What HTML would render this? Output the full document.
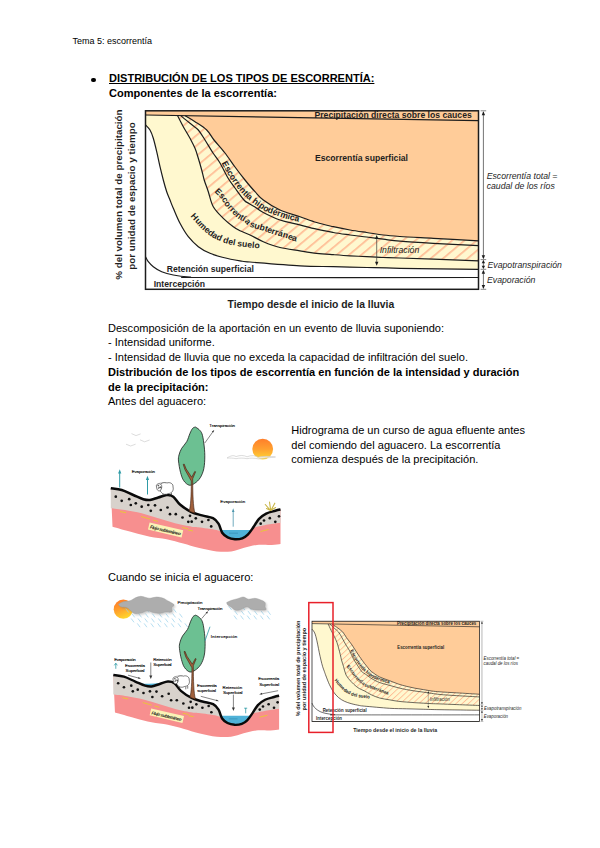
<!DOCTYPE html><html lang="es"><head><meta charset="utf-8"><title>Tema 5: escorrentía</title><style>
html,body{margin:0;padding:0;background:#fff}
body{width:600px;height:848px;position:relative;overflow:hidden;font-family:"Liberation Sans",Arial,sans-serif;color:#000}
.t{position:absolute;white-space:nowrap;font-size:11.04px;line-height:14.6px;left:108.0px}
.b{font-weight:bold}
svg{position:absolute;left:0;top:0}
</style></head><body>
<div class="t" style="left:72.5px;top:34.88px;font-size:9px;line-height:12px">Tema 5: escorrentía</div>
<div style="position:absolute;left:91.2px;top:77.6px;width:4.6px;height:4.6px;border-radius:50%;background:#000"></div>
<div class="t b" style="top:71.22px;left:109.0px;text-decoration:underline;">DISTRIBUCIÓN DE LOS TIPOS DE ESCORRENTÍA:</div>
<div class="t b" style="top:86.22px;left:109.0px;">Componentes de la escorrentía:</div>
<div class="t " style="top:320.52px;">Descomposición de la aportación en un evento de lluvia suponiendo:</div>
<div class="t " style="top:335.27px;">- Intensidad uniforme.</div>
<div class="t " style="top:350.02px;">- Intensidad de lluvia que no exceda la capacidad de infiltración del suelo.</div>
<div class="t b" style="top:364.77px;">Distribución de los tipos de escorrentía en función de la intensidad y duración</div>
<div class="t b" style="top:379.52px;">de la precipitación:</div>
<div class="t " style="top:394.27px;">Antes del aguacero:</div>
<div class="t " style="top:422.92px;left:291.3px;">Hidrograma de un curso de agua efluente antes</div>
<div class="t " style="top:437.52px;left:291.3px;">del comiendo del aguacero. La escorrentía</div>
<div class="t " style="top:452.12px;left:291.3px;">comienza después de la precipitación.</div>
<div class="t " style="top:570.17px;">Cuando se inicia el aguacero:</div>
<!--SCENE2-->
<svg width="600" height="848" viewBox="0 0 600 848">
<g id="chartbig"><defs><pattern id="ah" width="7.9" height="7.9" patternUnits="userSpaceOnUse" patternTransform="rotate(-40)"><rect x="0" y="0" width="7.9" height="1.7" fill="#FFBD95"/></pattern></defs>
<rect x="145.5" y="110.8" width="333.0" height="178.5" fill="#FFCC99"/>
<path d="M145.5 115.0L185.0 115.7C186.7 116.7 191.4 119.3 195.0 121.7C198.6 124.1 203.5 127.0 206.7 130.0C209.9 133.1 210.9 136.2 214.0 140.0C217.1 143.8 221.5 148.5 225.0 153.0C228.5 157.5 231.7 162.5 235.0 167.0C238.3 171.5 241.7 175.9 245.0 180.0C248.3 184.1 251.9 188.4 255.0 191.7C258.1 195.0 259.1 196.9 263.3 200.0C267.5 203.1 273.9 207.2 280.0 210.0C286.1 212.8 293.9 214.6 300.0 216.7C306.1 218.8 311.1 220.8 316.7 222.5C322.2 224.2 327.8 225.4 333.3 226.7C338.9 227.9 344.4 229.0 350.0 230.0C355.6 231.0 361.1 231.7 366.7 232.5C372.2 233.3 377.8 234.3 383.3 235.0C388.9 235.7 391.7 235.9 400.0 236.5C408.3 237.1 420.2 237.6 433.3 238.3C446.4 239.0 471.0 240.4 478.5 240.8L478.5 269.3C465.4 269.1 418.6 268.6 400.0 268.3C381.4 268.0 377.8 267.8 366.7 267.5C355.6 267.2 344.4 267.0 333.3 266.7C322.2 266.4 313.9 266.6 300.0 265.8C286.1 265.0 260.0 262.8 250.0 262.0C240.0 261.2 244.4 261.6 240.0 260.8C235.6 260.1 228.3 258.8 223.3 257.5C218.3 256.2 214.2 255.1 210.0 253.3C205.8 251.5 201.9 249.5 198.3 246.7C194.7 243.9 191.4 240.6 188.3 236.7C185.2 232.8 182.5 228.0 180.0 223.3C177.5 218.6 175.0 212.2 173.3 208.3C171.6 204.4 171.1 202.8 170.0 200.0C168.9 197.2 167.8 195.0 166.7 191.7C165.6 188.4 164.4 184.2 163.3 180.0C162.2 175.8 161.1 171.4 160.0 166.7C158.9 162.0 157.8 156.4 156.7 151.7C155.6 147.0 154.4 141.9 153.3 138.3C152.2 134.7 151.3 132.2 150.0 130.0C148.7 127.8 146.2 125.8 145.5 125.0Z" fill="#FFF8CF"/>
<path d="M185.0 115.7C186.7 116.7 191.4 119.3 195.0 121.7C198.6 124.1 203.5 127.0 206.7 130.0C209.9 133.1 210.9 136.2 214.0 140.0C217.1 143.8 221.5 148.5 225.0 153.0C228.5 157.5 231.7 162.5 235.0 167.0C238.3 171.5 241.7 175.9 245.0 180.0C248.3 184.1 251.9 188.4 255.0 191.7C258.1 195.0 259.1 196.9 263.3 200.0C267.5 203.1 273.9 207.2 280.0 210.0C286.1 212.8 293.9 214.6 300.0 216.7C306.1 218.8 311.1 220.8 316.7 222.5C322.2 224.2 327.8 225.4 333.3 226.7C338.9 227.9 344.4 229.0 350.0 230.0C355.6 231.0 361.1 231.7 366.7 232.5C372.2 233.3 377.8 234.3 383.3 235.0C388.9 235.7 391.7 235.9 400.0 236.5C408.3 237.1 420.2 237.6 433.3 238.3C446.4 239.0 471.0 240.4 478.5 240.8L478.5 260.8C471.0 260.5 446.4 259.7 433.3 259.2C420.2 258.7 408.3 258.3 400.0 258.0C391.7 257.7 388.9 257.7 383.3 257.5C377.8 257.3 372.2 257.0 366.7 256.7C361.1 256.4 355.6 256.1 350.0 255.8C344.4 255.5 338.9 255.1 333.3 254.7C327.8 254.3 322.2 254.0 316.7 253.3C311.1 252.7 306.1 251.8 300.0 250.8C293.9 249.8 286.1 249.0 280.0 247.5C273.9 246.0 268.3 243.8 263.3 241.7C258.3 239.6 253.9 236.8 250.0 235.0C246.1 233.2 242.8 232.2 240.0 230.8C237.2 229.4 236.1 228.8 233.3 226.7C230.5 224.6 226.6 221.6 223.3 218.3C220.0 215.0 215.8 211.1 213.3 206.7C210.8 202.3 209.8 196.1 208.3 191.7C206.8 187.2 205.3 183.6 204.2 180.0C203.1 176.4 202.7 173.6 201.7 170.0C200.7 166.4 199.4 161.9 198.3 158.3C197.2 154.7 196.4 151.6 195.0 148.3C193.6 145.0 191.9 141.9 190.0 138.3C188.1 134.7 185.4 130.5 183.3 126.7C181.2 122.9 178.5 117.4 177.5 115.5Z" fill="url(#ah)"/>
<path d="M145.5 125.0C146.2 125.8 148.7 127.8 150.0 130.0C151.3 132.2 152.2 134.7 153.3 138.3C154.4 141.9 155.6 147.0 156.7 151.7C157.8 156.4 158.9 162.0 160.0 166.7C161.1 171.4 162.2 175.8 163.3 180.0C164.4 184.2 165.6 188.4 166.7 191.7C167.8 195.0 168.9 197.2 170.0 200.0C171.1 202.8 171.6 204.4 173.3 208.3C175.0 212.2 177.5 218.6 180.0 223.3C182.5 228.0 185.2 232.8 188.3 236.7C191.4 240.6 194.7 243.9 198.3 246.7C201.9 249.5 205.8 251.5 210.0 253.3C214.2 255.1 218.3 256.2 223.3 257.5C228.3 258.8 235.6 260.1 240.0 260.8C244.4 261.6 240.0 261.2 250.0 262.0C260.0 262.8 286.1 265.0 300.0 265.8C313.9 266.6 322.2 266.4 333.3 266.7C344.4 267.0 355.6 267.2 366.7 267.5C377.8 267.8 381.4 268.0 400.0 268.3C418.6 268.6 465.4 269.1 478.5 269.3L478.5 289.3L145.5 289.3Z" fill="#fff"/>
<g fill="none" stroke="#1c1c1c" stroke-width="1.2">
<path d="M145.5 115.0L478.5 120.7"/>
<path d="M145.5 125.0C146.2 125.8 148.7 127.8 150.0 130.0C151.3 132.2 152.2 134.7 153.3 138.3C154.4 141.9 155.6 147.0 156.7 151.7C157.8 156.4 158.9 162.0 160.0 166.7C161.1 171.4 162.2 175.8 163.3 180.0C164.4 184.2 165.6 188.4 166.7 191.7C167.8 195.0 168.9 197.2 170.0 200.0C171.1 202.8 171.6 204.4 173.3 208.3C175.0 212.2 177.5 218.6 180.0 223.3C182.5 228.0 185.2 232.8 188.3 236.7C191.4 240.6 194.7 243.9 198.3 246.7C201.9 249.5 205.8 251.5 210.0 253.3C214.2 255.1 218.3 256.2 223.3 257.5C228.3 258.8 235.6 260.1 240.0 260.8C244.4 261.6 240.0 261.2 250.0 262.0C260.0 262.8 286.1 265.0 300.0 265.8C313.9 266.6 322.2 266.4 333.3 266.7C344.4 267.0 355.6 267.2 366.7 267.5C377.8 267.8 381.4 268.0 400.0 268.3C418.6 268.6 465.4 269.1 478.5 269.3"/>
<path d="M177.5 115.5C178.5 117.4 181.2 122.9 183.3 126.7C185.4 130.5 188.1 134.7 190.0 138.3C191.9 141.9 193.6 145.0 195.0 148.3C196.4 151.6 197.2 154.7 198.3 158.3C199.4 161.9 200.7 166.4 201.7 170.0C202.7 173.6 203.1 176.4 204.2 180.0C205.3 183.6 206.8 187.2 208.3 191.7C209.8 196.1 210.8 202.3 213.3 206.7C215.8 211.1 220.0 215.0 223.3 218.3C226.6 221.6 230.5 224.6 233.3 226.7C236.1 228.8 237.2 229.4 240.0 230.8C242.8 232.2 246.1 233.2 250.0 235.0C253.9 236.8 258.3 239.6 263.3 241.7C268.3 243.8 273.9 246.0 280.0 247.5C286.1 249.0 293.9 249.8 300.0 250.8C306.1 251.8 311.1 252.7 316.7 253.3C322.2 254.0 327.8 254.3 333.3 254.7C338.9 255.1 344.4 255.5 350.0 255.8C355.6 256.1 361.1 256.4 366.7 256.7C372.2 257.0 377.8 257.3 383.3 257.5C388.9 257.7 391.7 257.7 400.0 258.0C408.3 258.3 420.2 258.7 433.3 259.2C446.4 259.7 471.0 260.5 478.5 260.8"/>
<path d="M180.8 115.6C182.3 116.9 187.1 120.9 190.0 123.3C192.9 125.7 195.8 127.2 198.3 130.0C200.8 132.8 202.6 136.2 205.0 140.0C207.4 143.8 210.5 149.2 213.0 153.0C215.5 156.8 217.5 158.8 220.0 163.0C222.5 167.2 225.5 173.8 228.0 178.0C230.5 182.2 232.3 184.3 235.0 188.0C237.7 191.7 241.7 197.4 244.0 200.0C246.3 202.6 247.2 202.3 249.0 203.5C250.8 204.7 252.6 205.5 255.0 207.0C257.4 208.5 259.1 210.3 263.3 212.5C267.5 214.7 274.4 218.1 280.0 220.0C285.6 221.9 290.6 222.7 296.7 224.2C302.8 225.7 310.6 227.8 316.7 229.2C322.8 230.6 327.8 231.5 333.3 232.5C338.9 233.5 344.4 234.2 350.0 235.0C355.6 235.8 361.1 236.3 366.7 237.0C372.2 237.7 377.8 238.5 383.3 239.2C388.9 239.9 391.7 240.5 400.0 241.2C408.3 241.9 420.2 242.6 433.3 243.3C446.4 244.0 471.0 245.2 478.5 245.6"/>
<path d="M185.0 115.7C186.7 116.7 191.4 119.3 195.0 121.7C198.6 124.1 203.5 127.0 206.7 130.0C209.9 133.1 210.9 136.2 214.0 140.0C217.1 143.8 221.5 148.5 225.0 153.0C228.5 157.5 231.7 162.5 235.0 167.0C238.3 171.5 241.7 175.9 245.0 180.0C248.3 184.1 251.9 188.4 255.0 191.7C258.1 195.0 259.1 196.9 263.3 200.0C267.5 203.1 273.9 207.2 280.0 210.0C286.1 212.8 293.9 214.6 300.0 216.7C306.1 218.8 311.1 220.8 316.7 222.5C322.2 224.2 327.8 225.4 333.3 226.7C338.9 227.9 344.4 229.0 350.0 230.0C355.6 231.0 361.1 231.7 366.7 232.5C372.2 233.3 377.8 234.3 383.3 235.0C388.9 235.7 391.7 235.9 400.0 236.5C408.3 237.1 420.2 237.6 433.3 238.3C446.4 239.0 471.0 240.4 478.5 240.8"/>
<path d="M145.5 256.7C146.0 257.5 147.0 260.0 148.3 261.7C149.6 263.4 151.1 265.0 153.3 266.7C155.5 268.4 158.4 270.3 161.7 271.7C165.0 273.1 168.6 274.1 173.3 275.0C178.0 275.9 184.4 276.6 190.0 277.0C195.6 277.4 158.6 277.4 206.7 277.5C254.8 277.6 433.2 277.5 478.5 277.5"/>
<rect x="145.5" y="110.8" width="333.0" height="178.5" stroke-width="1.5"/>
</g>
<defs><path id="ap1" d="M221.5 163.0C222.3 164.5 225.2 169.8 226.5 172.0C227.8 174.2 228.1 175.0 229.0 176.5C229.9 178.0 231.0 179.6 232.0 181.0C233.0 182.4 234.1 183.8 235.0 185.0C235.9 186.2 236.7 187.0 237.5 188.0C238.3 189.0 239.1 189.9 240.0 191.0C240.9 192.1 242.0 193.4 243.0 194.5C244.0 195.6 245.1 196.7 246.0 197.5C246.9 198.3 246.8 198.3 248.3 199.5C249.8 200.7 252.5 202.8 255.0 204.5C257.5 206.2 261.1 208.7 263.3 210.0C265.5 211.3 266.4 211.7 268.3 212.5C270.2 213.3 273.1 214.3 275.0 215.0C276.9 215.7 278.3 216.1 280.0 216.7C281.7 217.2 283.6 217.9 285.0 218.3C286.4 218.7 286.1 218.6 288.3 219.2C290.5 219.8 294.7 220.9 298.3 221.7C301.9 222.5 308.1 223.6 310.0 224.0"/><path id="ap2" d="M214.2 191.7C215.0 192.5 217.8 195.2 219.2 196.7C220.6 198.2 221.5 199.4 222.5 200.8C223.5 202.2 223.9 203.5 225.0 205.0C226.1 206.5 227.8 208.5 229.2 210.0C230.6 211.5 232.1 212.9 233.3 214.2C234.6 215.4 235.4 216.5 236.7 217.5C237.9 218.5 239.4 219.2 240.8 220.0C242.2 220.8 243.8 221.5 245.0 222.5C246.2 223.5 246.6 224.8 248.3 225.8C250.0 226.8 251.9 227.3 255.0 228.3C258.1 229.3 264.2 230.9 266.7 231.7C269.2 232.5 266.7 232.2 270.0 233.3C273.3 234.4 282.8 237.1 286.7 238.3C290.6 239.6 290.2 239.9 293.3 240.8C296.4 241.7 303.1 243.1 305.0 243.5"/><path id="ap3" d="M190.5 216.5C191.5 217.7 194.8 221.4 196.7 223.5C198.6 225.6 200.1 227.2 202.0 229.0C203.9 230.8 206.4 233.0 208.3 234.5C210.2 236.0 211.6 236.8 213.3 237.8C215.0 238.8 216.6 239.5 218.3 240.3C220.0 241.1 221.0 241.7 223.3 242.5C225.6 243.3 229.2 244.4 232.0 245.0C234.8 245.6 237.0 245.9 240.0 246.3C243.0 246.7 246.7 247.1 250.0 247.5C253.3 247.9 256.7 248.2 260.0 248.5C263.3 248.8 268.3 249.2 270.0 249.3"/></defs>
<g font-family="Liberation Sans, Arial, sans-serif" font-weight="bold" font-size="8.65" fill="#1e1e1e">
<text><textPath href="#ap1">Escorrentía hipodérmica</textPath></text>
<text><textPath href="#ap2">Escorrentía subterránea</textPath></text>
<text><textPath href="#ap3">Humedad del suelo</textPath></text>
<text x="314.5" y="118">Precipitación directa sobre los cauces</text>
<text x="315" y="161">Escorrentía superficial</text>
<text x="166.7" y="271.7">Retención superficial</text>
<text x="153.7" y="286.7">Intercepción</text>
<text x="227.5" y="307.5" font-size="10.36">Tiempo desde el inicio de la lluvia</text>
<text transform="translate(122.3 279.8) rotate(-90)" font-size="9.83">% del volumen total de precipitación</text>
<text transform="translate(134.5 269.7) rotate(-90)" font-size="9.83">por unidad de espacio y tiempo</text>
</g>
<g font-family="Liberation Sans, Arial, sans-serif" font-style="italic" font-size="8.7" fill="#1e1e1e">
<text x="486.7" y="179">Escorrentía total =</text>
<text x="486.7" y="189">caudal de los ríos</text>
<text x="487.5" y="268">Evapotranspiración</text>
<text x="487" y="282.5">Evaporación</text>
<text x="379.7" y="252.5">Infiltración</text>
</g>
<g stroke="#3a3a3a" stroke-width="0.7" fill="none">
<path d="M483.4 112V258M483.4 260.5V268M483.4 271V288"/>
<path d="M480.6 110.8H486.2" stroke="#555"/>
<path d="M480.6 259.6H486.2" stroke="#555"/>
<path d="M480.6 269.3H486.2" stroke="#555"/>
<path d="M480.6 289.3H486.2" stroke="#555"/>
<path d="M376.7 237V264"/>
</g>
<g fill="#1c1c1c">
<path d="M483.4 111.3L481.7 115.3L485.1 115.3Z"/>
<path d="M483.4 259.2L481.7 255.2L485.1 255.2Z"/>
<path d="M483.4 260.0L481.7 263.2L485.1 263.2Z"/>
<path d="M483.4 268.9L481.7 265.7L485.1 265.7Z"/>
<path d="M483.4 269.8L481.7 273.8L485.1 273.8Z"/>
<path d="M483.4 288.9L481.7 284.9L485.1 284.9Z"/>
<path d="M376.7 235.0L375.0 239.0L378.4 239.0Z"/>
<path d="M376.7 265.8L375.0 261.8L378.4 261.8Z"/>
</g></g>
<g id="scene1"><defs><linearGradient id="sun" x1="0" y1="0" x2="0" y2="1"><stop offset="0" stop-color="#FF7E2A"/><stop offset="0.5" stop-color="#FFA030"/><stop offset="1" stop-color="#FFD733"/></linearGradient></defs>
<circle cx="262.7" cy="449.1" r="10.4" fill="url(#sun)"/>
<path d="M227 458C231 455.5 233.5 455 236 456.6C240 455 244 455.2 247 456.8C251 455 256 455.4 258 457.3C263 456 270 456.2 275.5 457C270 457.9 263 457.8 258.5 458.9C254 457.9 250 458 247 458.7C243 457.8 239 458 236 458.7C233 457.9 230 458.1 227 458Z" fill="#fff" fill-opacity="0.75" stroke="#c4c4c4" stroke-width="0.6"/>
<g stroke="#c4c4c4" stroke-width="0.6" fill="none"><path d="M131.5 433.6l4.5 2 4.6-1.7M140 439.8l4.6 2 5-1.8M126 444.2l4.6 1.8 5-1.8"/></g>
<path d="M110.8 488.3C112.6 488.6 118.0 488.9 121.7 490.0C125.5 491.1 129.7 493.5 133.3 495.0C136.9 496.5 140.5 498.4 143.3 499.2C146.1 500.0 147.5 500.3 150.0 500.0C152.5 499.7 155.5 498.3 158.3 497.5C161.1 496.7 164.2 495.1 166.7 495.0C169.2 494.9 171.1 495.1 173.3 496.7C175.5 498.3 177.1 502.0 180.0 504.5C182.9 507.0 187.3 510.0 191.0 511.8C194.7 513.6 198.3 514.3 202.0 515.4C205.7 516.5 210.2 516.8 213.0 518.2C215.8 519.6 217.0 521.3 218.5 523.7C220.0 526.1 220.7 530.5 222.2 532.8C223.7 535.1 225.6 536.3 227.7 537.4C229.8 538.5 232.6 539.1 235.0 539.3C237.4 539.4 240.2 539.1 242.3 538.3C244.4 537.5 246.0 536.5 247.8 534.7C249.6 532.9 251.5 529.9 253.3 527.3C255.1 524.7 256.7 521.4 258.8 519.1C260.9 516.8 263.4 515.0 266.2 513.6C268.9 512.2 272.9 511.5 275.3 510.8C277.7 510.1 279.6 509.7 280.5 509.5L280.5 544.0C279.0 544.2 275.6 544.8 271.7 545.0C267.8 545.2 261.6 544.5 257.0 545.0C252.4 545.5 248.5 546.7 244.2 547.8C239.9 548.9 235.9 550.8 231.3 551.4C226.7 552.0 222.2 552.0 216.7 551.4C211.2 550.8 203.9 549.1 198.3 547.8C192.7 546.5 188.6 544.9 183.3 543.5C178.0 542.1 172.2 540.3 166.7 539.2C161.1 538.1 155.6 537.8 150.0 536.7C144.4 535.6 139.6 534.2 133.3 532.5C127.1 530.8 116.0 527.7 112.5 526.7Z" fill="#F78F8F"/>
<clipPath id="g1w"><rect x="215" y="530.1" width="45" height="15"/></clipPath>
<path d="M213.0 518.2C213.9 519.1 217.0 521.3 218.5 523.7C220.0 526.1 220.7 530.5 222.2 532.8C223.7 535.1 225.6 536.3 227.7 537.4C229.8 538.5 232.6 539.1 235.0 539.3C237.4 539.4 240.2 539.1 242.3 538.3C244.4 537.5 246.0 536.5 247.8 534.7C249.6 532.9 251.5 529.9 253.3 527.3C255.1 524.7 257.9 520.5 258.8 519.1Z" fill="#4FB2D8" clip-path="url(#g1w)"/>
<path d="M229 533.2H238" stroke="#2a7fa3" stroke-width="0.5"/>
<path d="M110.8 488.3C112.6 488.6 118.0 488.9 121.7 490.0C125.5 491.1 129.7 493.5 133.3 495.0C136.9 496.5 140.5 498.4 143.3 499.2C146.1 500.0 147.5 500.3 150.0 500.0C152.5 499.7 155.5 498.3 158.3 497.5C161.1 496.7 164.2 495.1 166.7 495.0C169.2 494.9 171.1 495.1 173.3 496.7C175.5 498.3 177.1 502.0 180.0 504.5C182.9 507.0 187.3 510.0 191.0 511.8C194.7 513.6 198.3 514.3 202.0 515.4C205.7 516.5 210.2 516.8 213.0 518.2C215.8 519.6 217.0 521.3 218.5 523.7C220.0 526.1 221.6 531.3 222.2 532.8L223.0 533.5C221.9 532.9 220.8 531.1 216.7 530.1C212.6 529.1 202.5 527.9 198.3 527.3C194.1 526.7 195.6 527.4 191.7 526.7C187.8 526.0 180.6 524.7 175.0 523.3C169.4 521.9 163.9 520.0 158.3 518.3C152.8 516.6 147.2 514.7 141.7 513.3C136.1 511.9 130.2 510.8 125.0 510.0C119.8 509.2 113.2 508.6 110.8 508.3Z" fill="#D8D2CC"/>
<path d="M253.3 527.3C254.2 525.9 256.7 521.4 258.8 519.1C260.9 516.8 263.4 515.0 266.2 513.6C268.9 512.2 272.9 511.5 275.3 510.8C277.7 510.1 279.6 509.7 280.5 509.5L280.5 522.8C278.4 523.1 272.2 523.9 268.0 524.6C263.8 525.4 257.8 526.6 255.2 527.3C252.6 527.9 252.9 528.3 252.5 528.5Z" fill="#D8D2CC"/>
<g stroke="#E8C832" stroke-width="0.9" fill="none"><path d="M120 511.5l6 1.3M141 516.5l9 2.6M153 520l5 1.4M182 527.5l6 1.2M188 530l5 1M260.5 531.5l8-2"/></g>
<g transform="translate(149.6 522.6) rotate(13)"><rect x="0" y="0" width="34.5" height="7.2" fill="#FBF3B5"/><text x="1.4" y="5.6" font-family="Liberation Sans, Arial, sans-serif" font-weight="bold" font-style="italic" font-size="4.6" fill="#222" textLength="31.5">Flujo subterráneo</text></g>
<path d="M110.8 488.3C112.6 488.6 118.0 488.9 121.7 490.0C125.5 491.1 129.7 493.5 133.3 495.0C136.9 496.5 140.5 498.4 143.3 499.2C146.1 500.0 147.5 500.3 150.0 500.0C152.5 499.7 155.5 498.3 158.3 497.5C161.1 496.7 164.2 495.1 166.7 495.0C169.2 494.9 171.1 495.1 173.3 496.7C175.5 498.3 177.1 502.0 180.0 504.5C182.9 507.0 187.3 510.0 191.0 511.8C194.7 513.6 198.3 514.3 202.0 515.4C205.7 516.5 210.2 516.8 213.0 518.2C215.8 519.6 217.0 521.3 218.5 523.7C220.0 526.1 220.7 530.5 222.2 532.8C223.7 535.1 225.6 536.3 227.7 537.4C229.8 538.5 232.6 539.1 235.0 539.3C237.4 539.4 240.2 539.1 242.3 538.3C244.4 537.5 246.0 536.5 247.8 534.7C249.6 532.9 251.5 529.9 253.3 527.3C255.1 524.7 256.7 521.4 258.8 519.1C260.9 516.8 263.4 515.0 266.2 513.6C268.9 512.2 272.9 511.5 275.3 510.8C277.7 510.1 279.6 509.7 280.5 509.5" fill="none" stroke="#0a0a0a" stroke-width="2.5" stroke-linejoin="round"/>
<g fill="#111"><circle cx="115.8" cy="496.7" r="1.35"/><circle cx="121.7" cy="500.8" r="1.35"/><circle cx="129.2" cy="499.2" r="1.35"/><circle cx="130.8" cy="505.0" r="1.35"/><circle cx="135.8" cy="503.3" r="1.35"/><circle cx="141.7" cy="506.7" r="1.35"/><circle cx="148.3" cy="505.0" r="1.35"/><circle cx="155.0" cy="505.3" r="1.35"/><circle cx="150.8" cy="510.8" r="1.35"/><circle cx="160.8" cy="510.0" r="1.35"/><circle cx="167.5" cy="507.5" r="1.35"/><circle cx="170.0" cy="514.2" r="1.35"/><circle cx="175.8" cy="514.2" r="1.35"/><circle cx="182.5" cy="517.5" r="1.35"/><circle cx="190.0" cy="515.8" r="1.35"/><circle cx="191.7" cy="521.7" r="1.35"/><circle cx="195.8" cy="518.3" r="1.35"/><circle cx="188.3" cy="521.8" r="1.35"/><circle cx="202.0" cy="521.8" r="1.35"/><circle cx="208.4" cy="520.0" r="1.35"/><circle cx="211.2" cy="526.4" r="1.35"/><circle cx="260.7" cy="523.7" r="1.35"/><circle cx="269.8" cy="518.2" r="1.35"/><circle cx="275.3" cy="521.8" r="1.35"/><circle cx="279.0" cy="516.3" r="1.35"/><circle cx="264.0" cy="520.5" r="1.35"/></g>
<path d="M195.3 427.0C195.9 427.4 197.9 428.4 199.0 429.5C200.1 430.6 201.2 431.6 202.0 433.8C202.8 436.1 203.3 439.3 203.8 443.0C204.3 446.7 204.8 451.5 204.8 455.8C204.8 460.1 204.6 465.0 203.8 468.7C203.0 472.4 201.7 475.4 200.2 477.8C198.7 480.2 196.5 482.1 194.7 483.3C192.9 484.5 191.0 485.6 189.2 485.2C187.4 484.8 185.1 482.8 183.7 480.6C182.2 478.5 181.4 475.6 180.5 472.3C179.6 469.0 178.8 463.9 178.5 461.0C178.2 458.1 178.5 457.1 179.0 455.0C179.5 452.9 180.4 450.5 181.7 448.3C183.0 446.1 185.3 444.2 186.7 441.7C188.1 439.2 189.0 435.5 190.0 433.3C191.0 431.1 191.6 429.6 192.5 428.5C193.4 427.4 194.8 427.2 195.3 427.0Z" fill="#6CC092" stroke="#1a1a1a" stroke-width="0.8"/>
<path d="M189.2 511.2C190.7 506 191.2 497 191.3 481L185 469.8L183.2 464.4L184.2 464.1L186.2 469L191.7 477.2L194.8 471.4L195.6 471.8L192.7 478.8C192.8 495 193.1 506 194.9 513.2Z" fill="#A0603C" stroke="#3a1f10" stroke-width="0.6" stroke-linejoin="round"/>
<g transform="translate(0.0 0.0)" stroke="#222" stroke-width="0.6" fill="#fff"><path d="M163 494.3v2.2M169.5 494v2.5M171.5 493v2.8" fill="none"/><path d="M160 485.5C161 482.3 165 482 167 483C170 481.8 173.5 483.8 173 487C174 490 172 493.5 168.5 493.5C166 495 162.5 494.5 161.5 492.5C159.5 491 159 488 160 485.5Z"/><path d="M156.3 485.8C156.5 483.8 159 483.2 160.8 484.2C162.2 485.2 162 488.5 160.6 490.3C159.4 491.5 157.6 490.8 157 489.2Z"/><path d="M157.6 485.6l1.6 0.3M158 488.2l1.8-.6M160.4 486.5l.6 1.8" stroke="#111" stroke-width="0.9" fill="none"/><path d="M158.2 483.8C160 482.6 164 482.4 166 483" fill="none" stroke="#888" stroke-width="0.5"/></g>
<g stroke="#C9B545" stroke-width="1.1" fill="none" stroke-linecap="round"><path d="M270.5 510.5L265.3 504.5M270.7 510.3L269.5 502M271 510.3L274.8 503.2M270.6 510.4L266.5 508.6M271 510.2L275.6 507.5"/></g>
<path d="M119.7 472.9V487.5" stroke="#2F9BA6" stroke-width="1.0" fill="none"/><path d="M119.7 469.2L118.1 473.4L121.3 473.4Z" fill="#2F9BA6"/>
<path d="M147.5 479.5V494.5" stroke="#2F9BA6" stroke-width="1.0" fill="none"/><path d="M147.5 475.8L145.9 480.0L149.1 480.0Z" fill="#2F9BA6"/>
<path d="M233.2 511.4V526.7" stroke="#4d96ad" stroke-width="0.8" fill="none"/><path d="M233.2 508.3L231.9 511.9L234.5 511.9Z" fill="#4d96ad"/>
<g font-family="Liberation Sans, Arial, sans-serif" font-size="4.4" fill="#000" stroke="#000" stroke-width="0.12"><text x="131.7" y="472.6" textLength="23.3">Evaporación</text><text x="220.3" y="503" textLength="24.8">Evaporación</text><text x="209.3" y="427.2" textLength="25.7">Transpiración</text></g>
<path d="M204.8 443L213.6 430.8" stroke="#333" stroke-width="0.6"/><path d="M214.2 429.9l-2.4 1.6 1.5 1.1z" fill="#333"/></g>
<g id="scene2"><defs><linearGradient id="sun2" x1="0.2" y1="0" x2="0.6" y2="1"><stop offset="0" stop-color="#FF7A28"/><stop offset="0.5" stop-color="#FFA22C"/><stop offset="1" stop-color="#FFD92B"/></linearGradient><filter id="bl" x="-20%" y="-20%" width="140%" height="160%"><feGaussianBlur stdDeviation="0.9"/></filter></defs>
<circle cx="123.3" cy="609.2" r="9.6" fill="url(#sun2)"/>
<path d="M126.0 609.0l2.4 3.2M132.8 609.0l2.4 3.2M139.6 609.0l2.4 3.2M146.4 609.0l2.4 3.2M153.2 609.0l2.4 3.2M160.0 609.0l2.4 3.2M166.8 609.0l2.4 3.2M173.6 609.0l2.4 3.2M132.1 613.9l2.4 3.2M138.9 613.9l2.4 3.2M145.7 613.9l2.4 3.2M152.5 613.9l2.4 3.2M159.3 613.9l2.4 3.2M166.1 613.9l2.4 3.2M172.9 613.9l2.4 3.2M179.7 613.9l2.4 3.2M131.4 618.8l2.4 3.2M138.2 618.8l2.4 3.2M145.0 618.8l2.4 3.2M151.8 618.8l2.4 3.2M158.6 618.8l2.4 3.2M165.4 618.8l2.4 3.2M172.2 618.8l2.4 3.2M179.0 618.8l2.4 3.2M137.5 623.7l2.4 3.2M144.3 623.7l2.4 3.2M151.1 623.7l2.4 3.2M157.9 623.7l2.4 3.2M164.7 623.7l2.4 3.2M171.5 623.7l2.4 3.2M178.3 623.7l2.4 3.2M185.1 623.7l2.4 3.2" stroke="#9DD3EC" stroke-width="0.75" fill="none" stroke-linecap="round"/>
<path d="M229.0 606.5l2.4 3.2M235.6 606.5l2.4 3.2M242.2 606.5l2.4 3.2M248.8 606.5l2.4 3.2M255.4 606.5l2.4 3.2M262.0 606.5l2.4 3.2M234.9 611.2l2.4 3.2M241.5 611.2l2.4 3.2M248.1 611.2l2.4 3.2M254.7 611.2l2.4 3.2M261.3 611.2l2.4 3.2M267.9 611.2l2.4 3.2M234.2 615.9l2.4 3.2M240.8 615.9l2.4 3.2M247.4 615.9l2.4 3.2M254.0 615.9l2.4 3.2M260.6 615.9l2.4 3.2M267.2 615.9l2.4 3.2" stroke="#9DD3EC" stroke-width="0.75" fill="none" stroke-linecap="round"/>
<path d="M118.3 604.2C119.1 603.8 121.3 602.3 123.3 601.7C125.2 601.1 128.1 601.4 130.0 600.8C131.9 600.2 133.2 598.8 135.0 598.0C136.8 597.2 139.0 596.4 140.8 596.3C142.6 596.2 144.3 597.2 145.8 597.5C147.3 597.8 148.2 598.4 150.0 598.3C151.8 598.2 154.5 597.0 156.7 597.0C158.9 597.0 161.5 597.7 163.3 598.3C165.1 598.9 166.2 600.1 167.5 600.8C168.8 601.5 169.7 601.8 170.8 602.5C171.9 603.2 174.0 604.2 174.2 605.0C174.3 605.8 172.1 606.4 171.7 607.5C171.3 608.6 172.8 611.0 171.7 611.7C170.6 612.5 166.9 611.7 165.0 612.0C163.1 612.3 161.9 613.2 160.0 613.3C158.1 613.4 155.4 612.9 153.3 612.5C151.2 612.1 149.6 610.7 147.5 610.8C145.4 610.9 143.0 612.6 140.8 613.0C138.6 613.4 136.0 613.8 134.2 613.3C132.4 612.8 131.2 611.0 130.0 610.0C128.8 609.0 128.2 608.0 126.7 607.5C125.2 607.0 122.2 607.2 120.8 606.7C119.4 606.2 118.7 604.6 118.3 604.2Z" fill="#7d7d7d" opacity="0.4" transform="translate(1.4 1.6)" filter="url(#bl)"/>
<path d="M118.3 604.2C119.1 603.8 121.3 602.3 123.3 601.7C125.2 601.1 128.1 601.4 130.0 600.8C131.9 600.2 133.2 598.8 135.0 598.0C136.8 597.2 139.0 596.4 140.8 596.3C142.6 596.2 144.3 597.2 145.8 597.5C147.3 597.8 148.2 598.4 150.0 598.3C151.8 598.2 154.5 597.0 156.7 597.0C158.9 597.0 161.5 597.7 163.3 598.3C165.1 598.9 166.2 600.1 167.5 600.8C168.8 601.5 169.7 601.8 170.8 602.5C171.9 603.2 174.0 604.2 174.2 605.0C174.3 605.8 172.1 606.4 171.7 607.5C171.3 608.6 172.8 611.0 171.7 611.7C170.6 612.5 166.9 611.7 165.0 612.0C163.1 612.3 161.9 613.2 160.0 613.3C158.1 613.4 155.4 612.9 153.3 612.5C151.2 612.1 149.6 610.7 147.5 610.8C145.4 610.9 143.0 612.6 140.8 613.0C138.6 613.4 136.0 613.8 134.2 613.3C132.4 612.8 131.2 611.0 130.0 610.0C128.8 609.0 128.2 608.0 126.7 607.5C125.2 607.0 122.2 607.2 120.8 606.7C119.4 606.2 118.7 604.6 118.3 604.2Z" fill="#ADADAD" stroke="#9a9a9a" stroke-width="0.4"/>
<path d="M226.7 602.5C227.5 602.1 229.9 600.9 231.7 600.3C233.5 599.7 235.6 599.2 237.5 598.7C239.4 598.2 241.5 596.9 243.3 597.0C245.1 597.1 246.4 599.0 248.3 599.2C250.2 599.4 252.9 598.2 255.0 598.3C257.1 598.4 259.1 599.3 260.8 600.0C262.5 600.7 264.3 601.4 265.0 602.5C265.7 603.6 264.9 605.5 265.0 606.7C265.1 607.9 266.9 609.2 265.8 609.7C264.7 610.2 260.7 610.1 258.3 610.0C256.0 609.9 253.6 609.8 251.7 609.2C249.8 608.7 248.6 606.6 246.7 606.7C244.8 606.8 241.9 609.2 240.0 609.7C238.1 610.2 236.5 610.5 235.0 610.0C233.5 609.5 232.1 607.6 230.8 606.7C229.6 605.8 228.2 605.4 227.5 604.7C226.8 604.0 226.8 602.9 226.7 602.5Z" fill="#7d7d7d" opacity="0.4" transform="translate(1.4 1.6)" filter="url(#bl)"/>
<path d="M226.7 602.5C227.5 602.1 229.9 600.9 231.7 600.3C233.5 599.7 235.6 599.2 237.5 598.7C239.4 598.2 241.5 596.9 243.3 597.0C245.1 597.1 246.4 599.0 248.3 599.2C250.2 599.4 252.9 598.2 255.0 598.3C257.1 598.4 259.1 599.3 260.8 600.0C262.5 600.7 264.3 601.4 265.0 602.5C265.7 603.6 264.9 605.5 265.0 606.7C265.1 607.9 266.9 609.2 265.8 609.7C264.7 610.2 260.7 610.1 258.3 610.0C256.0 609.9 253.6 609.8 251.7 609.2C249.8 608.7 248.6 606.6 246.7 606.7C244.8 606.8 241.9 609.2 240.0 609.7C238.1 610.2 236.5 610.5 235.0 610.0C233.5 609.5 232.1 607.6 230.8 606.7C229.6 605.8 228.2 605.4 227.5 604.7C226.8 604.0 226.8 602.9 226.7 602.5Z" fill="#ADADAD" stroke="#9a9a9a" stroke-width="0.4"/>
<g transform="translate(113.3 675) scale(0.9770 0.9770) translate(-110.8 -488.3)">
<path d="M110.8 488.3C112.6 488.6 118.0 488.9 121.7 490.0C125.5 491.1 129.7 493.5 133.3 495.0C136.9 496.5 140.5 498.4 143.3 499.2C146.1 500.0 147.5 500.3 150.0 500.0C152.5 499.7 155.5 498.3 158.3 497.5C161.1 496.7 164.2 495.1 166.7 495.0C169.2 494.9 171.1 495.1 173.3 496.7C175.5 498.3 177.1 502.0 180.0 504.5C182.9 507.0 187.3 510.0 191.0 511.8C194.7 513.6 198.3 514.3 202.0 515.4C205.7 516.5 210.2 516.8 213.0 518.2C215.8 519.6 217.0 521.3 218.5 523.7C220.0 526.1 220.7 530.5 222.2 532.8C223.7 535.1 225.6 536.3 227.7 537.4C229.8 538.5 232.6 539.1 235.0 539.3C237.4 539.4 240.2 539.1 242.3 538.3C244.4 537.5 246.0 536.5 247.8 534.7C249.6 532.9 251.5 529.9 253.3 527.3C255.1 524.7 256.7 521.4 258.8 519.1C260.9 516.8 263.4 515.0 266.2 513.6C268.9 512.2 272.9 511.5 275.3 510.8C277.7 510.1 279.6 509.7 280.5 509.5L280.5 544.0C279.0 544.2 275.6 544.8 271.7 545.0C267.8 545.2 261.6 544.5 257.0 545.0C252.4 545.5 248.5 546.7 244.2 547.8C239.9 548.9 235.9 550.8 231.3 551.4C226.7 552.0 222.2 552.0 216.7 551.4C211.2 550.8 203.9 549.1 198.3 547.8C192.7 546.5 188.6 544.9 183.3 543.5C178.0 542.1 172.2 540.3 166.7 539.2C161.1 538.1 155.6 537.8 150.0 536.7C144.4 535.6 139.6 534.2 133.3 532.5C127.1 530.8 116.0 527.7 112.5 526.7Z" fill="#F78F8F"/>
<clipPath id="g2w"><rect x="215" y="530.1" width="45" height="15"/></clipPath>
<path d="M213.0 518.2C213.9 519.1 217.0 521.3 218.5 523.7C220.0 526.1 220.7 530.5 222.2 532.8C223.7 535.1 225.6 536.3 227.7 537.4C229.8 538.5 232.6 539.1 235.0 539.3C237.4 539.4 240.2 539.1 242.3 538.3C244.4 537.5 246.0 536.5 247.8 534.7C249.6 532.9 251.5 529.9 253.3 527.3C255.1 524.7 257.9 520.5 258.8 519.1Z" fill="#4FB2D8" clip-path="url(#g2w)"/>
<path d="M229 533.2H238" stroke="#2a7fa3" stroke-width="0.5"/>
<path d="M110.8 488.3C112.6 488.6 118.0 488.9 121.7 490.0C125.5 491.1 129.7 493.5 133.3 495.0C136.9 496.5 140.5 498.4 143.3 499.2C146.1 500.0 147.5 500.3 150.0 500.0C152.5 499.7 155.5 498.3 158.3 497.5C161.1 496.7 164.2 495.1 166.7 495.0C169.2 494.9 171.1 495.1 173.3 496.7C175.5 498.3 177.1 502.0 180.0 504.5C182.9 507.0 187.3 510.0 191.0 511.8C194.7 513.6 198.3 514.3 202.0 515.4C205.7 516.5 210.2 516.8 213.0 518.2C215.8 519.6 217.0 521.3 218.5 523.7C220.0 526.1 221.6 531.3 222.2 532.8L223.0 533.5C221.9 532.9 220.8 531.1 216.7 530.1C212.6 529.1 202.5 527.9 198.3 527.3C194.1 526.7 195.6 527.4 191.7 526.7C187.8 526.0 180.6 524.7 175.0 523.3C169.4 521.9 163.9 520.0 158.3 518.3C152.8 516.6 147.2 514.7 141.7 513.3C136.1 511.9 130.2 510.8 125.0 510.0C119.8 509.2 113.2 508.6 110.8 508.3Z" fill="#D8D2CC"/>
<path d="M253.3 527.3C254.2 525.9 256.7 521.4 258.8 519.1C260.9 516.8 263.4 515.0 266.2 513.6C268.9 512.2 272.9 511.5 275.3 510.8C277.7 510.1 279.6 509.7 280.5 509.5L280.5 522.8C278.4 523.1 272.2 523.9 268.0 524.6C263.8 525.4 257.8 526.6 255.2 527.3C252.6 527.9 252.9 528.3 252.5 528.5Z" fill="#D8D2CC"/>
<path d="M139 496.9C145 497.4 152 497.4 158.5 496.6L154 499.6L150 500.6L144 499.8Z" fill="#4FB2D8"/>
<g stroke="#E8C832" stroke-width="0.9" fill="none"><path d="M120 511.5l6 1.3M141 516.5l9 2.6M153 520l5 1.4M182 527.5l6 1.2M188 530l5 1M260.5 531.5l8-2"/></g>
<g transform="translate(149.6 522.6) rotate(13)"><rect x="0" y="0" width="34.5" height="7.2" fill="#FBF3B5"/><text x="1.4" y="5.6" font-family="Liberation Sans, Arial, sans-serif" font-weight="bold" font-style="italic" font-size="4.6" fill="#222" textLength="31.5">Flujo subterráneo</text></g>
<path d="M110.8 488.3C112.6 488.6 118.0 488.9 121.7 490.0C125.5 491.1 129.7 493.5 133.3 495.0C136.9 496.5 140.5 498.4 143.3 499.2C146.1 500.0 147.5 500.3 150.0 500.0C152.5 499.7 155.5 498.3 158.3 497.5C161.1 496.7 164.2 495.1 166.7 495.0C169.2 494.9 171.1 495.1 173.3 496.7C175.5 498.3 177.1 502.0 180.0 504.5C182.9 507.0 187.3 510.0 191.0 511.8C194.7 513.6 198.3 514.3 202.0 515.4C205.7 516.5 210.2 516.8 213.0 518.2C215.8 519.6 217.0 521.3 218.5 523.7C220.0 526.1 220.7 530.5 222.2 532.8C223.7 535.1 225.6 536.3 227.7 537.4C229.8 538.5 232.6 539.1 235.0 539.3C237.4 539.4 240.2 539.1 242.3 538.3C244.4 537.5 246.0 536.5 247.8 534.7C249.6 532.9 251.5 529.9 253.3 527.3C255.1 524.7 256.7 521.4 258.8 519.1C260.9 516.8 263.4 515.0 266.2 513.6C268.9 512.2 272.9 511.5 275.3 510.8C277.7 510.1 279.6 509.7 280.5 509.5" fill="none" stroke="#0a0a0a" stroke-width="2.5" stroke-linejoin="round"/>
<g fill="#111"><circle cx="115.8" cy="496.7" r="1.35"/><circle cx="121.7" cy="500.8" r="1.35"/><circle cx="129.2" cy="499.2" r="1.35"/><circle cx="130.8" cy="505.0" r="1.35"/><circle cx="135.8" cy="503.3" r="1.35"/><circle cx="141.7" cy="506.7" r="1.35"/><circle cx="148.3" cy="505.0" r="1.35"/><circle cx="155.0" cy="505.3" r="1.35"/><circle cx="150.8" cy="510.8" r="1.35"/><circle cx="160.8" cy="510.0" r="1.35"/><circle cx="167.5" cy="507.5" r="1.35"/><circle cx="170.0" cy="514.2" r="1.35"/><circle cx="175.8" cy="514.2" r="1.35"/><circle cx="182.5" cy="517.5" r="1.35"/><circle cx="190.0" cy="515.8" r="1.35"/><circle cx="191.7" cy="521.7" r="1.35"/><circle cx="195.8" cy="518.3" r="1.35"/><circle cx="188.3" cy="521.8" r="1.35"/><circle cx="202.0" cy="521.8" r="1.35"/><circle cx="208.4" cy="520.0" r="1.35"/><circle cx="211.2" cy="526.4" r="1.35"/><circle cx="260.7" cy="523.7" r="1.35"/><circle cx="269.8" cy="518.2" r="1.35"/><circle cx="275.3" cy="521.8" r="1.35"/><circle cx="279.0" cy="516.3" r="1.35"/><circle cx="264.0" cy="520.5" r="1.35"/></g>
<path d="M195.3 427.0C195.9 427.4 197.9 428.4 199.0 429.5C200.1 430.6 201.2 431.6 202.0 433.8C202.8 436.1 203.3 439.3 203.8 443.0C204.3 446.7 204.8 451.5 204.8 455.8C204.8 460.1 204.6 465.0 203.8 468.7C203.0 472.4 201.7 475.4 200.2 477.8C198.7 480.2 196.5 482.1 194.7 483.3C192.9 484.5 191.0 485.6 189.2 485.2C187.4 484.8 185.1 482.8 183.7 480.6C182.2 478.5 181.4 475.6 180.5 472.3C179.6 469.0 178.8 463.9 178.5 461.0C178.2 458.1 178.5 457.1 179.0 455.0C179.5 452.9 180.4 450.5 181.7 448.3C183.0 446.1 185.3 444.2 186.7 441.7C188.1 439.2 189.0 435.5 190.0 433.3C191.0 431.1 191.6 429.6 192.5 428.5C193.4 427.4 194.8 427.2 195.3 427.0Z" fill="#6CC092" stroke="#1a1a1a" stroke-width="0.8"/>
<path d="M189.2 511.2C190.7 506 191.2 497 191.3 481L185 469.8L183.2 464.4L184.2 464.1L186.2 469L191.7 477.2L194.8 471.4L195.6 471.8L192.7 478.8C192.8 495 193.1 506 194.9 513.2Z" fill="#A0603C" stroke="#3a1f10" stroke-width="0.6" stroke-linejoin="round"/>
<g transform="translate(15.5 6.5)" stroke="#222" stroke-width="0.6" fill="#fff"><path d="M163 494.3v2.2M169.5 494v2.5M171.5 493v2.8" fill="none"/><path d="M160 485.5C161 482.3 165 482 167 483C170 481.8 173.5 483.8 173 487C174 490 172 493.5 168.5 493.5C166 495 162.5 494.5 161.5 492.5C159.5 491 159 488 160 485.5Z"/><path d="M156.3 485.8C156.5 483.8 159 483.2 160.8 484.2C162.2 485.2 162 488.5 160.6 490.3C159.4 491.5 157.6 490.8 157 489.2Z"/><path d="M157.6 485.6l1.6 0.3M158 488.2l1.8-.6M160.4 486.5l.6 1.8" stroke="#111" stroke-width="0.9" fill="none"/><path d="M158.2 483.8C160 482.6 164 482.4 166 483" fill="none" stroke="#888" stroke-width="0.5"/></g>
</g>
<g font-family="Liberation Sans, Arial, sans-serif" font-size="4.4" fill="#000" stroke="#000" stroke-width="0.12">
<text x="177.5" y="604.1" textLength="25.0">Precipitación</text>
<text x="197.5" y="609.9" textLength="25.0">Transpiración</text>
<text x="210.8" y="638.3" textLength="26.5">Intercepción</text>
<text x="114.2" y="660.6" textLength="21.6">Evaporación</text>
<text x="125.0" y="667.4" textLength="20.0">Escorrentía</text>
<text x="125.6" y="672.2" textLength="19.0">Superficial</text>
<text x="153.3" y="661.3" textLength="18.3">Retención</text>
<text x="153.3" y="666.4" textLength="18.3">Superficial</text>
<text x="197.0" y="687.2" textLength="19.8">Escorrentía</text>
<text x="197.2" y="692.2" textLength="18.8">superficial</text>
<text x="222.5" y="688.6" textLength="19.6">Retención</text>
<text x="222.9" y="693.6" textLength="19.6">Superficial</text>
<text x="258.3" y="680.4" textLength="21.0">Escorrentía</text>
<text x="259.2" y="685.6" textLength="20.0">Superficial</text>
</g>
<g stroke="#333" stroke-width="0.6" fill="none">
<path d="M201.7 618.6L207.3 612"/><path d="M150.8 662.5V676.5M233.4 694.6V708.8"/>
<path d="M128 675.2L139.5 678.3M200.8 696.3L217 700.6M278.1 690.7L261 694"/>
</g>
<g fill="#333"><path d="M208 611.2l-2.3 1.3 1.4 1.2z"/><path d="M150.8 679l-1.5-3.4h3z"/><path d="M233.4 711l-1.5-3.4h3z"/><path d="M141 678.7l-3-.2.6-1.6z"/><path d="M219 701.2l-3.1-.1.7-1.7z"/><path d="M259.2 694.4l2.6-1.6.5 1.7z"/></g>
<path d="M210 626.7L205 640.8" stroke="#2F9BA6" stroke-width="0.8"/>
<path d="M115.8 663.5V668.8M114.3 665.3L115.8 663.2L117.3 665.3M245.7 708V713.3M244.2 708.2H247.2" stroke="#2F9BA6" stroke-width="0.8" fill="none"/></g>
<g transform="translate(312.00 621.25) scale(0.5030 0.5616) translate(-145.50 -110.80)"><defs><pattern id="bh" width="7.9" height="7.9" patternUnits="userSpaceOnUse" patternTransform="rotate(-40)"><rect x="0" y="0" width="7.9" height="1.7" fill="#FFBD95"/></pattern></defs>
<rect x="145.5" y="110.8" width="333.0" height="178.5" fill="#FFCC99"/>
<path d="M145.5 115.0L185.0 115.7C186.7 116.7 191.4 119.3 195.0 121.7C198.6 124.1 203.5 127.0 206.7 130.0C209.9 133.1 210.9 136.2 214.0 140.0C217.1 143.8 221.5 148.5 225.0 153.0C228.5 157.5 231.7 162.5 235.0 167.0C238.3 171.5 241.7 175.9 245.0 180.0C248.3 184.1 251.9 188.4 255.0 191.7C258.1 195.0 259.1 196.9 263.3 200.0C267.5 203.1 273.9 207.2 280.0 210.0C286.1 212.8 293.9 214.6 300.0 216.7C306.1 218.8 311.1 220.8 316.7 222.5C322.2 224.2 327.8 225.4 333.3 226.7C338.9 227.9 344.4 229.0 350.0 230.0C355.6 231.0 361.1 231.7 366.7 232.5C372.2 233.3 377.8 234.3 383.3 235.0C388.9 235.7 391.7 235.9 400.0 236.5C408.3 237.1 420.2 237.6 433.3 238.3C446.4 239.0 471.0 240.4 478.5 240.8L478.5 269.3C465.4 269.1 418.6 268.6 400.0 268.3C381.4 268.0 377.8 267.8 366.7 267.5C355.6 267.2 344.4 267.0 333.3 266.7C322.2 266.4 313.9 266.6 300.0 265.8C286.1 265.0 260.0 262.8 250.0 262.0C240.0 261.2 244.4 261.6 240.0 260.8C235.6 260.1 228.3 258.8 223.3 257.5C218.3 256.2 214.2 255.1 210.0 253.3C205.8 251.5 201.9 249.5 198.3 246.7C194.7 243.9 191.4 240.6 188.3 236.7C185.2 232.8 182.5 228.0 180.0 223.3C177.5 218.6 175.0 212.2 173.3 208.3C171.6 204.4 171.1 202.8 170.0 200.0C168.9 197.2 167.8 195.0 166.7 191.7C165.6 188.4 164.4 184.2 163.3 180.0C162.2 175.8 161.1 171.4 160.0 166.7C158.9 162.0 157.8 156.4 156.7 151.7C155.6 147.0 154.4 141.9 153.3 138.3C152.2 134.7 151.3 132.2 150.0 130.0C148.7 127.8 146.2 125.8 145.5 125.0Z" fill="#FFF8CF"/>
<path d="M185.0 115.7C186.7 116.7 191.4 119.3 195.0 121.7C198.6 124.1 203.5 127.0 206.7 130.0C209.9 133.1 210.9 136.2 214.0 140.0C217.1 143.8 221.5 148.5 225.0 153.0C228.5 157.5 231.7 162.5 235.0 167.0C238.3 171.5 241.7 175.9 245.0 180.0C248.3 184.1 251.9 188.4 255.0 191.7C258.1 195.0 259.1 196.9 263.3 200.0C267.5 203.1 273.9 207.2 280.0 210.0C286.1 212.8 293.9 214.6 300.0 216.7C306.1 218.8 311.1 220.8 316.7 222.5C322.2 224.2 327.8 225.4 333.3 226.7C338.9 227.9 344.4 229.0 350.0 230.0C355.6 231.0 361.1 231.7 366.7 232.5C372.2 233.3 377.8 234.3 383.3 235.0C388.9 235.7 391.7 235.9 400.0 236.5C408.3 237.1 420.2 237.6 433.3 238.3C446.4 239.0 471.0 240.4 478.5 240.8L478.5 260.8C471.0 260.5 446.4 259.7 433.3 259.2C420.2 258.7 408.3 258.3 400.0 258.0C391.7 257.7 388.9 257.7 383.3 257.5C377.8 257.3 372.2 257.0 366.7 256.7C361.1 256.4 355.6 256.1 350.0 255.8C344.4 255.5 338.9 255.1 333.3 254.7C327.8 254.3 322.2 254.0 316.7 253.3C311.1 252.7 306.1 251.8 300.0 250.8C293.9 249.8 286.1 249.0 280.0 247.5C273.9 246.0 268.3 243.8 263.3 241.7C258.3 239.6 253.9 236.8 250.0 235.0C246.1 233.2 242.8 232.2 240.0 230.8C237.2 229.4 236.1 228.8 233.3 226.7C230.5 224.6 226.6 221.6 223.3 218.3C220.0 215.0 215.8 211.1 213.3 206.7C210.8 202.3 209.8 196.1 208.3 191.7C206.8 187.2 205.3 183.6 204.2 180.0C203.1 176.4 202.7 173.6 201.7 170.0C200.7 166.4 199.4 161.9 198.3 158.3C197.2 154.7 196.4 151.6 195.0 148.3C193.6 145.0 191.9 141.9 190.0 138.3C188.1 134.7 185.4 130.5 183.3 126.7C181.2 122.9 178.5 117.4 177.5 115.5Z" fill="url(#bh)"/>
<path d="M145.5 125.0C146.2 125.8 148.7 127.8 150.0 130.0C151.3 132.2 152.2 134.7 153.3 138.3C154.4 141.9 155.6 147.0 156.7 151.7C157.8 156.4 158.9 162.0 160.0 166.7C161.1 171.4 162.2 175.8 163.3 180.0C164.4 184.2 165.6 188.4 166.7 191.7C167.8 195.0 168.9 197.2 170.0 200.0C171.1 202.8 171.6 204.4 173.3 208.3C175.0 212.2 177.5 218.6 180.0 223.3C182.5 228.0 185.2 232.8 188.3 236.7C191.4 240.6 194.7 243.9 198.3 246.7C201.9 249.5 205.8 251.5 210.0 253.3C214.2 255.1 218.3 256.2 223.3 257.5C228.3 258.8 235.6 260.1 240.0 260.8C244.4 261.6 240.0 261.2 250.0 262.0C260.0 262.8 286.1 265.0 300.0 265.8C313.9 266.6 322.2 266.4 333.3 266.7C344.4 267.0 355.6 267.2 366.7 267.5C377.8 267.8 381.4 268.0 400.0 268.3C418.6 268.6 465.4 269.1 478.5 269.3L478.5 289.3L145.5 289.3Z" fill="#fff"/>
<g fill="none" stroke="#1c1c1c" stroke-width="1.2">
<path d="M145.5 115.0L478.5 120.7"/>
<path d="M145.5 125.0C146.2 125.8 148.7 127.8 150.0 130.0C151.3 132.2 152.2 134.7 153.3 138.3C154.4 141.9 155.6 147.0 156.7 151.7C157.8 156.4 158.9 162.0 160.0 166.7C161.1 171.4 162.2 175.8 163.3 180.0C164.4 184.2 165.6 188.4 166.7 191.7C167.8 195.0 168.9 197.2 170.0 200.0C171.1 202.8 171.6 204.4 173.3 208.3C175.0 212.2 177.5 218.6 180.0 223.3C182.5 228.0 185.2 232.8 188.3 236.7C191.4 240.6 194.7 243.9 198.3 246.7C201.9 249.5 205.8 251.5 210.0 253.3C214.2 255.1 218.3 256.2 223.3 257.5C228.3 258.8 235.6 260.1 240.0 260.8C244.4 261.6 240.0 261.2 250.0 262.0C260.0 262.8 286.1 265.0 300.0 265.8C313.9 266.6 322.2 266.4 333.3 266.7C344.4 267.0 355.6 267.2 366.7 267.5C377.8 267.8 381.4 268.0 400.0 268.3C418.6 268.6 465.4 269.1 478.5 269.3"/>
<path d="M177.5 115.5C178.5 117.4 181.2 122.9 183.3 126.7C185.4 130.5 188.1 134.7 190.0 138.3C191.9 141.9 193.6 145.0 195.0 148.3C196.4 151.6 197.2 154.7 198.3 158.3C199.4 161.9 200.7 166.4 201.7 170.0C202.7 173.6 203.1 176.4 204.2 180.0C205.3 183.6 206.8 187.2 208.3 191.7C209.8 196.1 210.8 202.3 213.3 206.7C215.8 211.1 220.0 215.0 223.3 218.3C226.6 221.6 230.5 224.6 233.3 226.7C236.1 228.8 237.2 229.4 240.0 230.8C242.8 232.2 246.1 233.2 250.0 235.0C253.9 236.8 258.3 239.6 263.3 241.7C268.3 243.8 273.9 246.0 280.0 247.5C286.1 249.0 293.9 249.8 300.0 250.8C306.1 251.8 311.1 252.7 316.7 253.3C322.2 254.0 327.8 254.3 333.3 254.7C338.9 255.1 344.4 255.5 350.0 255.8C355.6 256.1 361.1 256.4 366.7 256.7C372.2 257.0 377.8 257.3 383.3 257.5C388.9 257.7 391.7 257.7 400.0 258.0C408.3 258.3 420.2 258.7 433.3 259.2C446.4 259.7 471.0 260.5 478.5 260.8"/>
<path d="M180.8 115.6C182.3 116.9 187.1 120.9 190.0 123.3C192.9 125.7 195.8 127.2 198.3 130.0C200.8 132.8 202.6 136.2 205.0 140.0C207.4 143.8 210.5 149.2 213.0 153.0C215.5 156.8 217.5 158.8 220.0 163.0C222.5 167.2 225.5 173.8 228.0 178.0C230.5 182.2 232.3 184.3 235.0 188.0C237.7 191.7 241.7 197.4 244.0 200.0C246.3 202.6 247.2 202.3 249.0 203.5C250.8 204.7 252.6 205.5 255.0 207.0C257.4 208.5 259.1 210.3 263.3 212.5C267.5 214.7 274.4 218.1 280.0 220.0C285.6 221.9 290.6 222.7 296.7 224.2C302.8 225.7 310.6 227.8 316.7 229.2C322.8 230.6 327.8 231.5 333.3 232.5C338.9 233.5 344.4 234.2 350.0 235.0C355.6 235.8 361.1 236.3 366.7 237.0C372.2 237.7 377.8 238.5 383.3 239.2C388.9 239.9 391.7 240.5 400.0 241.2C408.3 241.9 420.2 242.6 433.3 243.3C446.4 244.0 471.0 245.2 478.5 245.6"/>
<path d="M185.0 115.7C186.7 116.7 191.4 119.3 195.0 121.7C198.6 124.1 203.5 127.0 206.7 130.0C209.9 133.1 210.9 136.2 214.0 140.0C217.1 143.8 221.5 148.5 225.0 153.0C228.5 157.5 231.7 162.5 235.0 167.0C238.3 171.5 241.7 175.9 245.0 180.0C248.3 184.1 251.9 188.4 255.0 191.7C258.1 195.0 259.1 196.9 263.3 200.0C267.5 203.1 273.9 207.2 280.0 210.0C286.1 212.8 293.9 214.6 300.0 216.7C306.1 218.8 311.1 220.8 316.7 222.5C322.2 224.2 327.8 225.4 333.3 226.7C338.9 227.9 344.4 229.0 350.0 230.0C355.6 231.0 361.1 231.7 366.7 232.5C372.2 233.3 377.8 234.3 383.3 235.0C388.9 235.7 391.7 235.9 400.0 236.5C408.3 237.1 420.2 237.6 433.3 238.3C446.4 239.0 471.0 240.4 478.5 240.8"/>
<path d="M145.5 256.7C146.0 257.5 147.0 260.0 148.3 261.7C149.6 263.4 151.1 265.0 153.3 266.7C155.5 268.4 158.4 270.3 161.7 271.7C165.0 273.1 168.6 274.1 173.3 275.0C178.0 275.9 184.4 276.6 190.0 277.0C195.6 277.4 158.6 277.4 206.7 277.5C254.8 277.6 433.2 277.5 478.5 277.5"/>
<rect x="145.5" y="110.8" width="333.0" height="178.5" stroke-width="1.5"/>
</g>
<defs><path id="bp1" d="M221.5 163.0C222.3 164.5 225.2 169.8 226.5 172.0C227.8 174.2 228.1 175.0 229.0 176.5C229.9 178.0 231.0 179.6 232.0 181.0C233.0 182.4 234.1 183.8 235.0 185.0C235.9 186.2 236.7 187.0 237.5 188.0C238.3 189.0 239.1 189.9 240.0 191.0C240.9 192.1 242.0 193.4 243.0 194.5C244.0 195.6 245.1 196.7 246.0 197.5C246.9 198.3 246.8 198.3 248.3 199.5C249.8 200.7 252.5 202.8 255.0 204.5C257.5 206.2 261.1 208.7 263.3 210.0C265.5 211.3 266.4 211.7 268.3 212.5C270.2 213.3 273.1 214.3 275.0 215.0C276.9 215.7 278.3 216.1 280.0 216.7C281.7 217.2 283.6 217.9 285.0 218.3C286.4 218.7 286.1 218.6 288.3 219.2C290.5 219.8 294.7 220.9 298.3 221.7C301.9 222.5 308.1 223.6 310.0 224.0"/><path id="bp2" d="M214.2 191.7C215.0 192.5 217.8 195.2 219.2 196.7C220.6 198.2 221.5 199.4 222.5 200.8C223.5 202.2 223.9 203.5 225.0 205.0C226.1 206.5 227.8 208.5 229.2 210.0C230.6 211.5 232.1 212.9 233.3 214.2C234.6 215.4 235.4 216.5 236.7 217.5C237.9 218.5 239.4 219.2 240.8 220.0C242.2 220.8 243.8 221.5 245.0 222.5C246.2 223.5 246.6 224.8 248.3 225.8C250.0 226.8 251.9 227.3 255.0 228.3C258.1 229.3 264.2 230.9 266.7 231.7C269.2 232.5 266.7 232.2 270.0 233.3C273.3 234.4 282.8 237.1 286.7 238.3C290.6 239.6 290.2 239.9 293.3 240.8C296.4 241.7 303.1 243.1 305.0 243.5"/><path id="bp3" d="M190.5 216.5C191.5 217.7 194.8 221.4 196.7 223.5C198.6 225.6 200.1 227.2 202.0 229.0C203.9 230.8 206.4 233.0 208.3 234.5C210.2 236.0 211.6 236.8 213.3 237.8C215.0 238.8 216.6 239.5 218.3 240.3C220.0 241.1 221.0 241.7 223.3 242.5C225.6 243.3 229.2 244.4 232.0 245.0C234.8 245.6 237.0 245.9 240.0 246.3C243.0 246.7 246.7 247.1 250.0 247.5C253.3 247.9 256.7 248.2 260.0 248.5C263.3 248.8 268.3 249.2 270.0 249.3"/></defs>
<g font-family="Liberation Sans, Arial, sans-serif" font-weight="bold" font-size="8.65" fill="#1e1e1e">
<text><textPath href="#bp1">Escorrentía hipodérmica</textPath></text>
<text><textPath href="#bp2">Escorrentía subterránea</textPath></text>
<text><textPath href="#bp3">Humedad del suelo</textPath></text>
<text x="314.5" y="118">Precipitación directa sobre los cauces</text>
<text x="315" y="161">Escorrentía superficial</text>
<text x="166.7" y="271.7">Retención superficial</text>
<text x="153.7" y="286.7">Intercepción</text>
<text x="227.5" y="307.5" font-size="10.36">Tiempo desde el inicio de la lluvia</text>
<text transform="translate(122.3 279.8) rotate(-90)" font-size="9.83">% del volumen total de precipitación</text>
<text transform="translate(134.5 269.7) rotate(-90)" font-size="9.83">por unidad de espacio y tiempo</text>
</g>
<g font-family="Liberation Sans, Arial, sans-serif" font-style="italic" font-size="8.7" fill="#1e1e1e">
<text x="486.7" y="179">Escorrentía total =</text>
<text x="486.7" y="189">caudal de los ríos</text>
<text x="487.5" y="268">Evapotranspiración</text>
<text x="487" y="282.5">Evaporación</text>
<text x="379.7" y="252.5">Infiltración</text>
</g>
<g stroke="#3a3a3a" stroke-width="0.7" fill="none">
<path d="M483.4 112V258M483.4 260.5V268M483.4 271V288"/>
<path d="M480.6 110.8H486.2" stroke="#555"/>
<path d="M480.6 259.6H486.2" stroke="#555"/>
<path d="M480.6 269.3H486.2" stroke="#555"/>
<path d="M480.6 289.3H486.2" stroke="#555"/>
<path d="M376.7 237V264"/>
</g>
<g fill="#1c1c1c">
<path d="M483.4 111.3L481.7 115.3L485.1 115.3Z"/>
<path d="M483.4 259.2L481.7 255.2L485.1 255.2Z"/>
<path d="M483.4 260.0L481.7 263.2L485.1 263.2Z"/>
<path d="M483.4 268.9L481.7 265.7L485.1 265.7Z"/>
<path d="M483.4 269.8L481.7 273.8L485.1 273.8Z"/>
<path d="M483.4 288.9L481.7 284.9L485.1 284.9Z"/>
<path d="M376.7 235.0L375.0 239.0L378.4 239.0Z"/>
<path d="M376.7 265.8L375.0 261.8L378.4 261.8Z"/>
</g></g>
<rect x="308.8" y="602.6" width="24.2" height="129.8" fill="none" stroke="#e8202a" stroke-width="1.5"/>
</svg>
</body></html>
